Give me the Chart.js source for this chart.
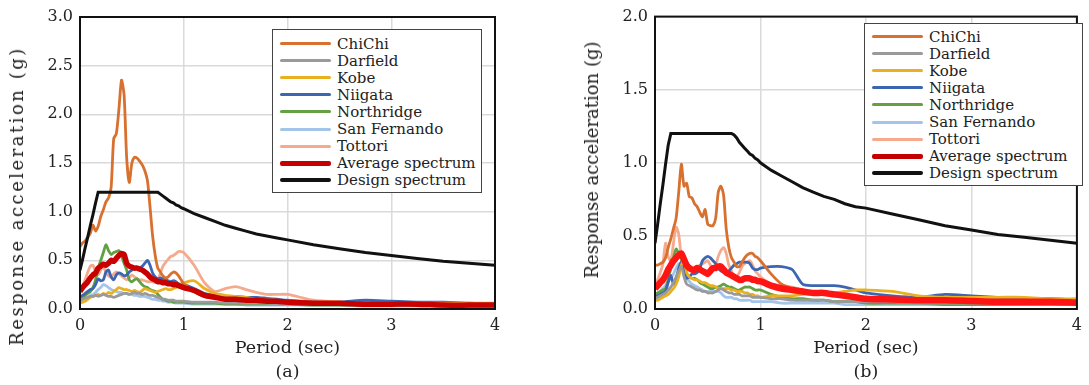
<!DOCTYPE html>
<html>
<head>
<meta charset="utf-8">
<title>Response spectra</title>
<script src="https://cdn.jsdelivr.net/npm/chart.js@4.4.1/dist/chart.umd.min.js"></script>
<style>
    body { margin: 0; width: 1089px; height: 385px; overflow: hidden; position: relative; background: #fff; font-family: 'DejaVu Serif', serif; color: #222; }
    .panel { position: absolute; top: 0; height: 385px; }
    .txt { position: absolute; white-space: nowrap; line-height: 1; transform-origin: center center; }
    .legend { position: absolute; background: #fff; border: 1px solid #444; box-sizing: border-box; font-size: 15px; }
    .legend .row { height: 17.1px; display: flex; align-items: center; }
    .legend .swatch { display: inline-block; width: 51px; margin: 0 6px 0 7px; border-radius: 2px; }
</style>
</head>
<body>
<div class="panel" style="left:0;width:530px"><canvas id="chart-a"></canvas></div>
<div class="panel" style="left:545px;width:544px"><canvas id="chart-b"></canvas></div>
<div id="overlay"></div>
<script>
// Periodo (s) comun a todas las series
var periods = [0, 0.025, 0.05, 0.075, 0.1, 0.125, 0.15, 0.175, 0.2, 0.225, 0.25, 0.275, 0.3, 0.325, 0.35, 0.375, 0.4, 0.425, 0.45, 0.475, 0.5, 0.525, 0.55, 0.575, 0.6, 0.625, 0.65, 0.675, 0.7, 0.725, 0.75, 0.775, 0.8, 0.825, 0.85, 0.875, 0.9, 0.925, 0.95, 0.975, 1.0, 1.1, 1.2, 1.3, 1.4, 1.5, 1.6, 1.7, 1.8, 1.9, 2.0, 2.25, 2.5, 2.75, 3.0, 3.25, 3.5, 3.75, 4.0];

var seriesNames = ['ChiChi', 'Darfield', 'Kobe', 'Niigata', 'Northridge', 'San Fernando', 'Tottori', 'Average spectrum', 'Design spectrum'];
var xTicks = [0, 1, 2, 3, 4];
var yMaxA = 3.0;
var yMaxB = 2.0;
var yStep = 0.5;
var panelLabels = ['(a)', '(b)'];
var xTitle = 'Period (sec)';
var yTitle = 'Response acceleration (g)';

// Panel (a)
var chichiA = [0.64,0.68,0.70,0.74,0.78,0.86,0.80,0.85,0.95,1.02, 1.10,1.14,1.25,1.75,1.80,2.05,2.35,2.20,1.55,1.30, 1.50,1.56,1.55,1.52,1.48,1.42,1.32,1.05,0.75,0.55, 0.42,0.38,0.34,0.32,0.33,0.36,0.38,0.37,0.34,0.30, 0.26, 0.18,0.13,0.11,0.10,0.10,0.09,0.09,0.08,0.08,0.07, 0.06,0.05,0.05,0.05,0.04,0.04,0.04,0.04];
var darfieldA = [0.09,0.10,0.11,0.12,0.13,0.13,0.14,0.13,0.14,0.15, 0.14,0.13,0.13,0.12,0.13,0.14,0.15,0.16,0.16,0.15, 0.16,0.17,0.16,0.16,0.15,0.16,0.15,0.14,0.14,0.13, 0.12,0.11,0.10,0.10,0.09,0.09,0.09,0.08,0.08,0.08, 0.08, 0.07,0.07,0.07,0.06,0.06,0.06,0.06,0.06,0.05,0.05, 0.05,0.05,0.04,0.04,0.04,0.04,0.04,0.04];
var kobeA = [0.06,0.07,0.08,0.10,0.12,0.13,0.14,0.15,0.14,0.16, 0.15,0.17,0.16,0.18,0.20,0.22,0.21,0.20,0.20,0.19, 0.18,0.19,0.18,0.17,0.19,0.21,0.20,0.19,0.18,0.17, 0.18,0.19,0.20,0.21,0.20,0.20,0.21,0.22,0.24,0.26, 0.27, 0.29,0.21,0.16,0.14,0.13,0.12,0.10,0.09,0.09,0.08, 0.07,0.07,0.06,0.06,0.06,0.06,0.06,0.06];
var niigataA = [0.13,0.14,0.16,0.18,0.20,0.21,0.25,0.31,0.29,0.30, 0.38,0.40,0.33,0.30,0.35,0.37,0.36,0.34,0.35,0.38, 0.40,0.42,0.43,0.42,0.44,0.47,0.50,0.45,0.37,0.33, 0.31,0.32,0.31,0.30,0.29,0.28,0.29,0.28,0.26,0.25, 0.25, 0.21,0.16,0.14,0.13,0.13,0.12,0.12,0.11,0.10,0.09, 0.07,0.07,0.09,0.08,0.07,0.07,0.06,0.05];
var northridgeA = [0.11,0.12,0.14,0.16,0.18,0.22,0.30,0.42,0.50,0.58, 0.66,0.60,0.56,0.58,0.59,0.60,0.55,0.47,0.40,0.30, 0.28,0.30,0.31,0.28,0.25,0.23,0.22,0.20,0.19,0.18, 0.15,0.12,0.10,0.09,0.08,0.08,0.07,0.07,0.07,0.07, 0.07, 0.06,0.06,0.06,0.05,0.05,0.05,0.05,0.05,0.05,0.05, 0.04,0.04,0.04,0.04,0.04,0.03,0.03,0.03];
var sanFernandoA = [0.09,0.10,0.11,0.12,0.14,0.15,0.17,0.20,0.22,0.25, 0.24,0.22,0.20,0.19,0.18,0.17,0.17,0.16,0.16,0.15, 0.15,0.14,0.14,0.13,0.13,0.13,0.12,0.11,0.10,0.10, 0.09,0.09,0.08,0.08,0.07,0.07,0.07,0.06,0.06,0.06, 0.06, 0.05,0.05,0.05,0.05,0.05,0.04,0.04,0.04,0.04,0.04, 0.04,0.04,0.03,0.03,0.03,0.03,0.03,0.03];
var tottoriA = [0.18,0.24,0.30,0.38,0.44,0.45,0.38,0.35,0.40,0.43, 0.38,0.34,0.33,0.36,0.38,0.36,0.34,0.32,0.30,0.32, 0.35,0.33,0.31,0.30,0.30,0.29,0.28,0.28,0.28,0.27, 0.30,0.37,0.44,0.48,0.51,0.54,0.55,0.57,0.59,0.59, 0.58, 0.45,0.27,0.18,0.21,0.23,0.20,0.17,0.15,0.15,0.15, 0.09,0.07,0.06,0.05,0.05,0.05,0.05,0.04];
var averageA = [0.18,0.22,0.25,0.28,0.32,0.35,0.37,0.42,0.44,0.46, 0.45,0.47,0.50,0.49,0.52,0.55,0.57,0.56,0.47,0.44, 0.43,0.42,0.42,0.41,0.40,0.38,0.36,0.33,0.31,0.30, 0.28,0.28,0.27,0.27,0.26,0.26,0.25,0.25,0.24,0.23, 0.22, 0.19,0.14,0.12,0.10,0.10,0.09,0.09,0.08,0.08,0.07, 0.06,0.06,0.05,0.05,0.05,0.04,0.04,0.04];
var designA = [0.40,0.51,0.63,0.74,0.86,0.97,1.09,1.20,1.20,1.20, 1.20,1.20,1.20,1.20,1.20,1.20,1.20,1.20,1.20,1.20, 1.20,1.20,1.20,1.20,1.20,1.20,1.20,1.20,1.20,1.20, 1.20,1.18,1.16,1.14,1.12,1.10,1.09,1.07,1.06,1.04, 1.03, 0.98,0.94,0.90,0.86,0.83,0.80,0.77,0.75,0.73,0.71, 0.66,0.62,0.58,0.55,0.52,0.49,0.47,0.45];

// Panel (b)
var chichiB = [0.30,0.30,0.31,0.32,0.35,0.42,0.48,0.55,0.62,0.80, 0.99,0.84,0.86,0.77,0.76,0.72,0.70,0.66,0.63,0.68, 0.58,0.57,0.57,0.62,0.80,0.84,0.78,0.55,0.42,0.35, 0.32,0.29,0.29,0.32,0.35,0.37,0.38,0.38,0.36,0.35, 0.33, 0.24,0.17,0.14,0.12,0.11,0.10,0.09,0.09,0.08,0.08, 0.07,0.06,0.06,0.05,0.05,0.05,0.05,0.04];
var darfieldB = [0.07,0.08,0.09,0.10,0.11,0.13,0.15,0.18,0.22,0.26, 0.29,0.22,0.17,0.16,0.15,0.14,0.13,0.13,0.12,0.12, 0.11,0.11,0.11,0.12,0.13,0.14,0.13,0.12,0.11,0.11, 0.10,0.10,0.10,0.09,0.09,0.09,0.09,0.08,0.08,0.08, 0.08, 0.07,0.07,0.06,0.06,0.06,0.06,0.05,0.05,0.05,0.05, 0.05,0.04,0.04,0.04,0.04,0.04,0.04,0.04];
var kobeB = [0.06,0.06,0.07,0.08,0.09,0.10,0.12,0.14,0.17,0.22, 0.30,0.33,0.25,0.22,0.21,0.20,0.20,0.19,0.18,0.18, 0.17,0.16,0.16,0.15,0.14,0.14,0.14,0.14,0.14,0.13, 0.13,0.12,0.12,0.12,0.11,0.11,0.10,0.10,0.09,0.09, 0.08, 0.09,0.09,0.09,0.10,0.10,0.10,0.11,0.12,0.13,0.13, 0.12,0.09,0.08,0.08,0.08,0.08,0.07,0.07];
var niigataB = [0.08,0.09,0.10,0.11,0.12,0.18,0.23,0.17,0.20,0.28, 0.32,0.26,0.21,0.22,0.24,0.24,0.25,0.28,0.33,0.35, 0.36,0.35,0.33,0.31,0.28,0.26,0.25,0.24,0.26,0.28, 0.30,0.31,0.32,0.32,0.32,0.32,0.31,0.28,0.27,0.27, 0.28, 0.29,0.29,0.27,0.17,0.16,0.16,0.16,0.15,0.13,0.11, 0.09,0.08,0.10,0.09,0.08,0.07,0.07,0.06];
var northridgeB = [0.10,0.11,0.12,0.13,0.14,0.20,0.28,0.35,0.41,0.38, 0.34,0.28,0.24,0.22,0.21,0.21,0.20,0.18,0.17,0.16, 0.15,0.14,0.14,0.15,0.15,0.16,0.17,0.16,0.15,0.15, 0.14,0.13,0.13,0.14,0.15,0.15,0.15,0.14,0.13,0.13, 0.13, 0.10,0.08,0.07,0.07,0.06,0.06,0.05,0.05,0.05,0.04, 0.04,0.04,0.03,0.03,0.03,0.03,0.03,0.03];
var sanFernandoB = [0.10,0.11,0.12,0.14,0.16,0.19,0.21,0.24,0.28,0.31, 0.30,0.25,0.21,0.19,0.17,0.16,0.15,0.14,0.13,0.12, 0.12,0.12,0.12,0.12,0.12,0.11,0.09,0.08,0.08,0.08, 0.07,0.07,0.06,0.06,0.06,0.06,0.06,0.05,0.05,0.05, 0.05, 0.05,0.04,0.04,0.04,0.04,0.04,0.04,0.03,0.03,0.03, 0.03,0.03,0.03,0.03,0.03,0.03,0.03,0.03];
var tottoriB = [0.15,0.20,0.25,0.31,0.45,0.36,0.33,0.45,0.56,0.51, 0.35,0.29,0.28,0.27,0.27,0.28,0.29,0.30,0.31,0.32, 0.33,0.30,0.27,0.30,0.36,0.40,0.42,0.38,0.30,0.26, 0.22,0.22,0.25,0.29,0.31,0.32,0.33,0.30,0.26,0.24, 0.22, 0.17,0.16,0.15,0.13,0.12,0.11,0.10,0.09,0.08,0.08, 0.07,0.06,0.06,0.05,0.05,0.05,0.05,0.04];
var averageB = [0.14,0.16,0.18,0.20,0.23,0.27,0.30,0.33,0.35,0.37, 0.38,0.34,0.30,0.28,0.27,0.27,0.28,0.27,0.26,0.25, 0.24,0.26,0.28,0.28,0.29,0.29,0.27,0.25,0.24,0.23, 0.22,0.21,0.20,0.20,0.21,0.21,0.21,0.20,0.20,0.19, 0.19, 0.16,0.14,0.13,0.12,0.11,0.11,0.10,0.09,0.08,0.07, 0.065,0.06,0.06,0.055,0.05,0.05,0.05,0.045];
var designB = [0.45,0.58,0.72,0.85,0.99,1.12,1.20,1.20,1.20,1.20, 1.20,1.20,1.20,1.20,1.20,1.20,1.20,1.20,1.20,1.20, 1.20,1.20,1.20,1.20,1.20,1.20,1.20,1.20,1.20,1.20, 1.19,1.17,1.14,1.12,1.10,1.08,1.06,1.05,1.03,1.02, 1.00, 0.95,0.91,0.87,0.83,0.80,0.77,0.75,0.72,0.70,0.69, 0.65,0.61,0.57,0.54,0.51,0.49,0.47,0.45];

// Estilos de las series
var seriesColors = ['#d8702f', '#9a9a9a', '#e9b021', '#3c66b2', '#62a042', '#a3c5ea', '#f5aa8e', '#c40000', '#111111'];
var legendWidths = [3, 3, 3, 3, 3, 3, 3, 5, 4];

var FONT = "'DejaVu Serif', serif";

// Marco negro alrededor del area de dibujo
var framePlugin = {
    id: 'frame',
    afterDatasetsDraw: function(chart) {
        var a = chart.chartArea;
        var ctx = chart.ctx;
        ctx.save();
        ctx.strokeStyle = '#111';
        ctx.lineWidth = 2;
        ctx.strokeRect(a.left, a.top, a.right - a.left, a.bottom - a.top);
        ctx.restore();
    }
};

function toPoints(values) {
    return periods.map(function(t, i) { return {x: t, y: values[i]}; });
}

function buildDatasets(values, avgColor, avgWidth) {
    return values.map(function(arr, i) {
        var isAvg = i === 7;
        var isDesign = i === 8;
        return {
            label: seriesNames[i],
            data: toPoints(arr),
            borderColor: isAvg ? avgColor : seriesColors[i],
            borderWidth: isAvg ? avgWidth : (isDesign ? 3 : 2.8),
            pointRadius: 0,
            tension: isDesign ? 0 : 0.25,
            fill: false,
            order: isDesign ? 0 : (isAvg ? 1 : 2)
        };
    });
}

function makeChart(id, datasets, yMax, pad, yWidth) {
    var ctx = document.getElementById(id);
    var panel = ctx.parentNode;
    ctx.width = panel.clientWidth;
    ctx.height = 385;
    return new Chart(ctx, {
        type: 'line',
        data: { datasets: datasets },
        options: {
            responsive: false,
            animation: false,
            layout: { padding: pad },
            plugins: { legend: { display: false }, tooltip: { enabled: false } },
            scales: {
                x: {
                    type: 'linear',
                    min: 0,
                    max: 4,
                    afterBuildTicks: function(scale) {
                        scale.ticks = xTicks.map(function(v) { return {value: v}; });
                    },
                    ticks: { font: { family: FONT, size: 16 }, color: '#222', padding: 7, maxRotation: 0,
                        callback: function(v) { return String(v); } },
                    grid: { color: '#dadada', lineWidth: 1.5, drawTicks: false },
                    border: { display: false },
                    afterFit: function(scale) { scale.height = 76; }
                },
                y: {
                    min: 0,
                    max: yMax,
                    ticks: { stepSize: yStep, font: { family: FONT, size: 16 }, color: '#222', padding: 7,
                        callback: function(v) { return v.toFixed(1); } },
                    grid: { color: '#dadada', lineWidth: 1.5, drawTicks: false },
                    border: { display: false },
                    afterFit: function(scale) { scale.width = yWidth; }
                }
            }
        },
        plugins: [framePlugin]
    });
}

var chartA = makeChart('chart-a',
    buildDatasets([chichiA, darfieldA, kobeA, niigataA, northridgeA, sanFernandoA, tottoriA, averageA, designA], '#c80000', 5.5),
    yMaxA, { left: 0, right: 35, top: 17, bottom: 0 }, 80);

var chartB = makeChart('chart-b',
    buildDatasets([chichiB, darfieldB, kobeB, niigataB, northridgeB, sanFernandoB, tottoriB, averageB, designB], '#ff1414', 6.5),
    yMaxB, { left: 0, right: 4, top: 15, bottom: 0 }, 110);

// Textos fuera del grafico (titulos, etiqueta de panel, leyenda)
var overlay = document.getElementById('overlay');

function addText(text, cx, cy, size, transform, spacing) {
    var d = document.createElement('div');
    d.className = 'txt';
    d.textContent = text;
    d.style.fontSize = size + 'px';
    if (spacing) d.style.letterSpacing = spacing + 'px';
    d.style.left = cx + 'px';
    d.style.top = cy + 'px';
    d.style.transform = 'translate(-50%, -50%) ' + (transform || '');
    overlay.appendChild(d);
}

function addLegend(left, top, width, height, padTop) {
    var box = document.createElement('div');
    box.className = 'legend';
    box.style.left = left + 'px';
    box.style.top = top + 'px';
    box.style.width = width + 'px';
    box.style.height = height + 'px';
    box.style.paddingTop = padTop + 'px';
    seriesNames.forEach(function(name, i) {
        var row = document.createElement('div');
        row.className = 'row';
        var sw = document.createElement('span');
        sw.className = 'swatch';
        sw.style.height = legendWidths[i] + 'px';
        sw.style.background = seriesColors[i];
        var label = document.createElement('span');
        label.textContent = name;
        row.appendChild(sw);
        row.appendChild(label);
        box.appendChild(row);
    });
    overlay.appendChild(box);
}

function chartCenter(chart, offset) {
    var a = chart.chartArea;
    return offset + (a.left + a.right) / 2;
}

addText(yTitle, 17, 196, 18, 'rotate(-90deg)', 2.5);
addText(yTitle, 592, 160, 18, 'rotate(-90deg)');
addText(xTitle, chartCenter(chartA, 0), 348, 17.5);
addText(xTitle, chartCenter(chartB, 545), 348, 17.5);
addText(panelLabels[0], chartCenter(chartA, 0), 372, 17.5);
addText(panelLabels[1], chartCenter(chartB, 545), 372, 17.5);

addLegend(272, 29, 210, 164, 5);
addLegend(864, 23, 219, 163, 4);
</script>
</body>
</html>
